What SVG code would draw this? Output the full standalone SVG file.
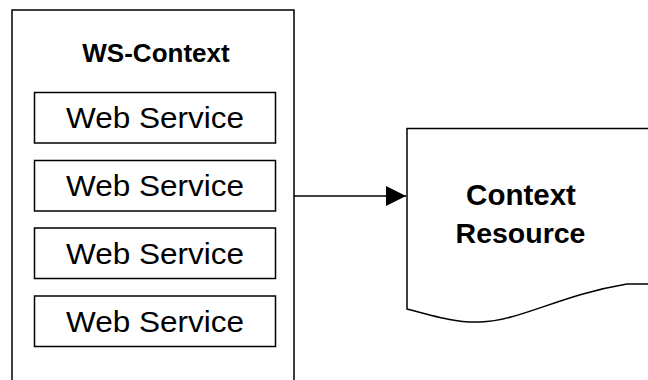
<svg xmlns="http://www.w3.org/2000/svg" width="648" height="380" viewBox="0 0 648 380">
<style>
.ln{fill:none;stroke:#000;stroke-width:1.5}
.box{fill:#fff;stroke:#000;stroke-width:1.5}
.ws{font-family:"Liberation Sans",Arial,sans-serif;font-size:30px;fill:#000;text-anchor:middle}
.b{font-family:"Liberation Sans",Arial,sans-serif;font-weight:bold;fill:#000;text-anchor:middle}
</style>
<defs>
<marker id="ah" markerWidth="20" markerHeight="20" refX="20" refY="10" orient="auto" markerUnits="userSpaceOnUse">
<path d="M0,0 L20,10 L0,20 Z" fill="#000"/>
</marker>
</defs>
<g id="ws-context">
<path class="ln" d="M12,381 L12,10 L294,10 L294,381"/>
<text class="b" x="156" y="62" font-size="26">WS-Context</text>
</g>
<g id="ws1"><rect class="box" x="34.5" y="92.5" width="241" height="50.5"/><text class="ws" x="155" y="128" textLength="178" lengthAdjust="spacingAndGlyphs">Web Service</text></g>
<g id="ws2"><rect class="box" x="34.5" y="160.5" width="241" height="50.5"/><text class="ws" x="155" y="196" textLength="178" lengthAdjust="spacingAndGlyphs">Web Service</text></g>
<g id="ws3"><rect class="box" x="34.5" y="228" width="241" height="50.5"/><text class="ws" x="155" y="263.5" textLength="178" lengthAdjust="spacingAndGlyphs">Web Service</text></g>
<g id="ws4"><rect class="box" x="34.5" y="296" width="241" height="50.5"/><text class="ws" x="155" y="331.5" textLength="178" lengthAdjust="spacingAndGlyphs">Web Service</text></g>
<g id="context-resource">
<path class="ln" d="M650,128.5 L407,128.5 L407,309 C440,318 460,323 480,322 C520,321 560,295 627,284 L650,284"/>
<text class="b" x="521" y="205" font-size="29.5">Context</text>
<text class="b" x="520.5" y="242.5" font-size="28.5">Resource</text>
</g>
<g id="connectors">
<line class="ln" x1="294" y1="196" x2="406" y2="196" marker-end="url(#ah)"/>
</g>
</svg>
